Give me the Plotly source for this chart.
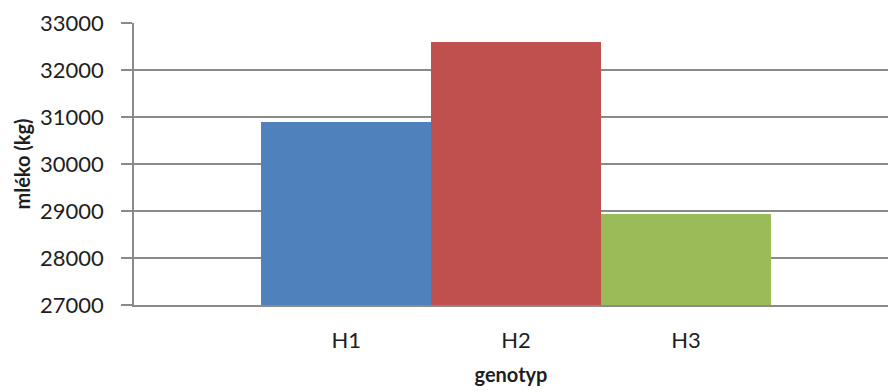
import plotly.graph_objects as go

# Milk yield (kg) by genotype
genotypes = ["H1", "H2", "H3"]
milk_kg = [30890, 32600, 28930]
bar_colors = ["#4F81BD", "#C0504D", "#9BBB59"]

y_ticks = [27000, 28000, 29000, 30000, 31000, 32000, 33000]

grid_color = "#8a8a8a"
font_family = "Lato, 'Open Sans', sans-serif"
text_color = "#1e1e1e"

fig = go.Figure(
    go.Bar(
        x=genotypes,
        y=milk_kg,
        marker=dict(color=bar_colors, line=dict(width=0)),
        width=1.0,
    )
)

fig.update_layout(
    width=888,
    height=392,
    margin=dict(l=134, r=0, t=23, b=87),
    paper_bgcolor="white",
    plot_bgcolor="white",
    showlegend=False,
    bargap=0,
    font=dict(family=font_family, size=22, color=text_color),
)

fig.update_xaxes(
    type="category",
    range=[-1.25, 3.19],
    showgrid=False,
    showline=True,
    linecolor=grid_color,
    linewidth=1.5,
    ticks="",
    ticklabelstandoff=15,
    tickfont=dict(size=22),
    title=dict(
        text="<b>genotyp</b>",
        font=dict(size=20),
        standoff=16,
    ),
)

fig.update_yaxes(
    range=[27000, 33000],
    tickvals=y_ticks,
    ticktext=[str(v) for v in y_ticks],
    showgrid=True,
    gridcolor=grid_color,
    gridwidth=1.5,
    showline=True,
    linecolor=grid_color,
    linewidth=1.5,
    ticks="outside",
    ticklen=11,
    tickwidth=1.5,
    tickcolor=grid_color,
    ticklabelstandoff=13,
    tickfont=dict(size=22),
    zeroline=False,
    title=dict(
        text="<b>mléko (kg)</b>",
        font=dict(size=20),
        standoff=4,
    ),
)

fig.write_html("out.html")
